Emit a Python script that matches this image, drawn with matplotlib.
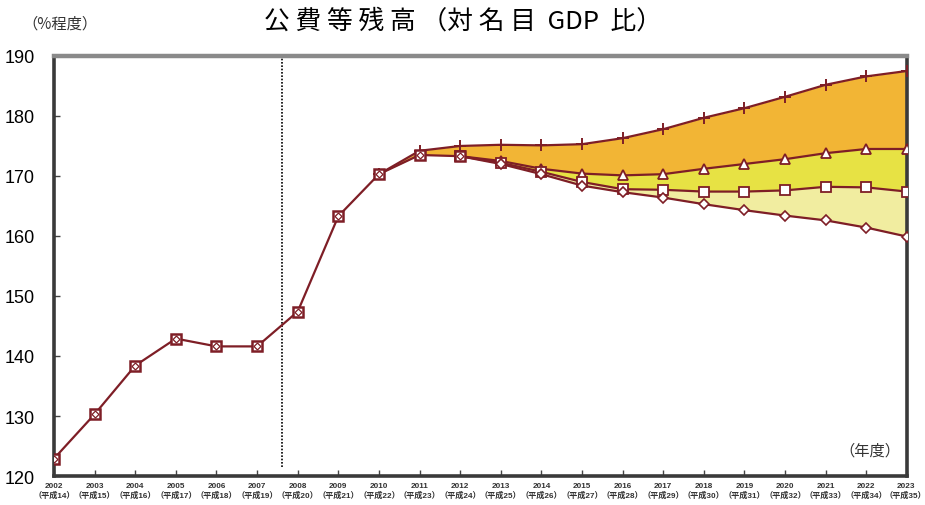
import matplotlib
matplotlib.use("Agg")
import matplotlib.pyplot as plt
import matplotlib.transforms as mtransforms

# Fiscal years and Heisei era numbers
years = list(range(2002, 2024))
heisei = list(range(14, 36))

# Actual ratio, FY2002-FY2012
hist_years = list(range(2002, 2013))
hist_vals = [122.9, 130.3, 138.4, 142.9, 141.6, 141.6, 147.4, 163.3, 170.3, 173.5, 173.3]

# Projection scenarios
plus_years = list(range(2010, 2024))
plus_vals = [170.3, 174.2, 175.0, 175.2, 175.1, 175.3, 176.3, 177.8, 179.7, 181.3,
             183.2, 185.2, 186.6, 187.5]

proj_years = list(range(2012, 2024))
tri_vals = [173.3, 172.5, 171.2, 170.4, 170.1, 170.3, 171.2, 172.0, 172.8, 173.8,
            174.5, 174.5]
sq_vals = [173.3, 172.2, 170.7, 169.0, 167.8, 167.7, 167.4, 167.4, 167.6, 168.2,
           168.1, 167.4]
dia_vals = [173.3, 172.0, 170.3, 168.4, 167.3, 166.4, 165.3, 164.3, 163.4, 162.6,
            161.4, 159.9]

title = "公 費 等 残 高 （対 名 目  GDP  比）"
y_unit = "（%程度）"
x_unit = "（年度）"

line_c = "#7E1E26"
c_orange = "#F2B535"
c_yellow = "#E7E244"
c_pale = "#F1EDA0"

fig = plt.figure(figsize=(9.25, 5.06), dpi=100)
ax = fig.add_axes([0.0584, 0.0573, 0.9221, 0.8301])

# The + series shares the actual values up to 2012; below it, the triangle band
tri_full = [hist_vals[-3], hist_vals[-2]] + tri_vals
ax.fill_between(plus_years, tri_full, plus_vals, color=c_orange, lw=0, zorder=1)
ax.fill_between(proj_years, sq_vals, tri_vals, color=c_yellow, lw=0, zorder=1)
ax.fill_between(proj_years, dia_vals, sq_vals, color=c_pale, lw=0, zorder=1)

mk = dict(color=line_c, lw=1.6, markerfacecolor="white", markeredgecolor=line_c, zorder=3)
ax.plot(plus_years, plus_vals, marker="+", markersize=9, markeredgewidth=1.4,
        color=line_c, lw=1.6, zorder=3)
ax.plot(proj_years, tri_vals, marker="^", markersize=7, markeredgewidth=1.3, **mk)
ax.plot(proj_years, sq_vals, marker="s", markersize=7, markeredgewidth=1.3, **mk)
ax.plot(proj_years, dia_vals, marker="D", markersize=5, markeredgewidth=1.2, **mk)

ax.plot(hist_years, hist_vals, marker="s", markersize=6.5, markeredgewidth=1.8, **mk)
ax.plot(hist_years, hist_vals, marker="D", markersize=3.5, markeredgewidth=0.9,
        linestyle="none", markerfacecolor="white", markeredgecolor=line_c, zorder=4)

# Boundary between actual and projected years
ax.plot([2007.62, 2007.62], [121.5, 190], color="black", lw=1.2, ls=(0, (1, 1)), zorder=2)

ax.set_xlim(2002, 2023)
ax.set_ylim(120, 190)
ax.set_yticks(range(120, 191, 10))
ax.set_xticks(years)
ax.set_xticklabels([])
for lab in ax.get_yticklabels():
    lab.set_fontsize(13)
    lab.set_family("Liberation Sans")
ax.tick_params(axis="both", direction="in", length=4, width=1, color="#444444")
ax.tick_params(axis="y", pad=14)

# Two-line year labels under the axis; the last one is pulled in to stay on the canvas
xlab_tr = mtransforms.blended_transform_factory(ax.transData, ax.transAxes)
for i, (y, h) in enumerate(zip(years, heisei)):
    tr = xlab_tr
    if i == len(years) - 1:
        tr = xlab_tr + mtransforms.ScaledTranslation(-1.0 / 72, 0, fig.dpi_scale_trans)
    ax.text(y, -0.015, f"{y}\n（平成{h}）", transform=tr, ha="center", va="top",
            fontsize=5.9, fontweight="bold", linespacing=1.25,
            family=["Liberation Sans", "Noto Sans CJK JP"], color="#333333",
            clip_on=False)

for side in ("left", "bottom", "right"):
    ax.spines[side].set_color("#3a3a3a")
    ax.spines[side].set_linewidth(2.6)
ax.spines["top"].set_color("#8a8a8a")
ax.spines["top"].set_linewidth(3.2)

fig.text(0.5, 0.957, title, ha="center", va="center", fontsize=18.5,
         family=["Noto Sans CJK JP", "DejaVu Sans"])
fig.text(0.065, 0.952, y_unit, ha="center", va="center", fontsize=11,
         family=["Noto Sans CJK JP", "DejaVu Sans"], color="#333333")
ax.text(0.992, 0.0615, x_unit, transform=ax.transAxes, ha="right", va="center",
        fontsize=11, family=["Noto Sans CJK JP", "DejaVu Sans"], color="#333333")

fig.savefig("out.png", dpi=100)
